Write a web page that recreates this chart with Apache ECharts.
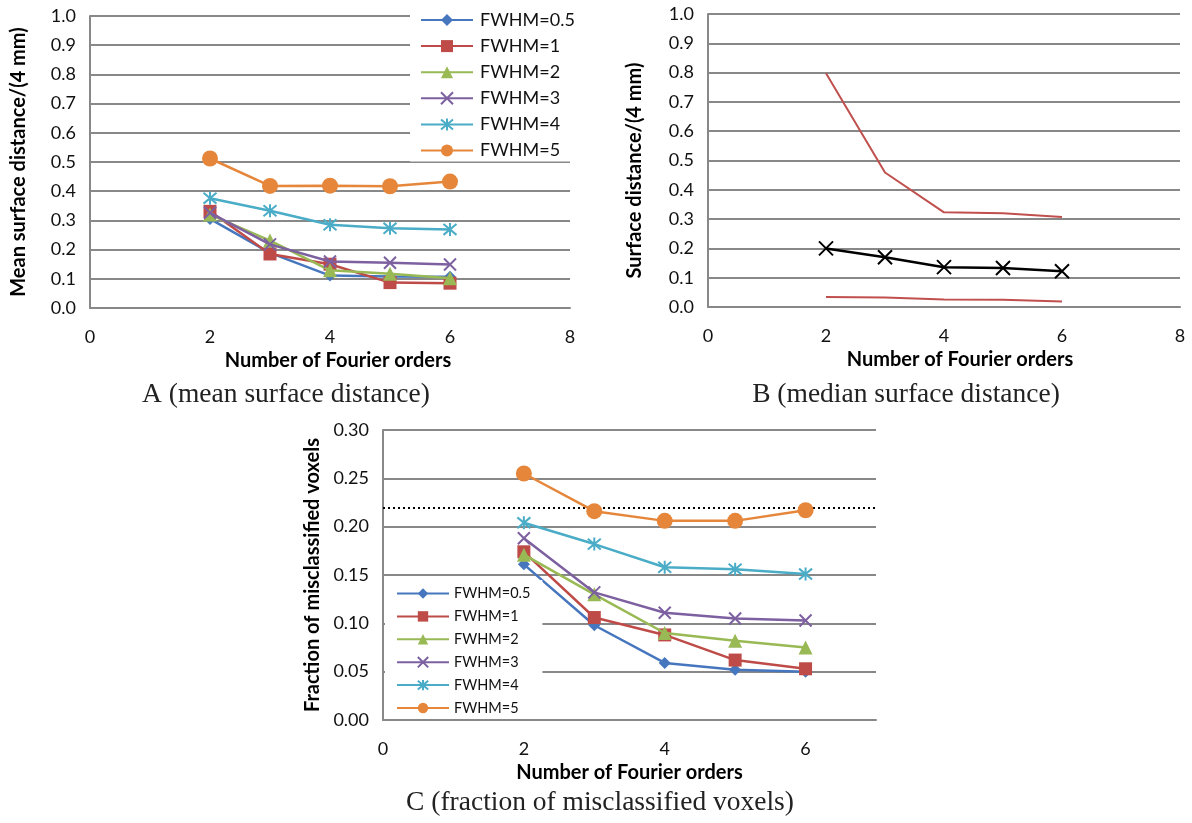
<!DOCTYPE html>
<html>
<head>
<meta charset="utf-8">
<script src="https://cdn.jsdelivr.net/npm/echarts@6/dist/echarts.min.js"></script>
<style>
html,body{margin:0;padding:0;background:#fff;}
#chart{width:1192px;height:823px;}
</style>
</head>
<body>
<div id="chart"></div>
<script>
// ---------- DATA ----------
var orders = [2, 3, 4, 5, 6];
var fwhmNames = ['FWHM=0.5', 'FWHM=1', 'FWHM=2', 'FWHM=3', 'FWHM=4', 'FWHM=5'];

// Panel A: mean surface distance / (4 mm)
var meanA_05 = [0.305, 0.189, 0.111, 0.108, 0.107];
var meanA_1  = [0.331, 0.185, 0.150, 0.087, 0.085];
var meanA_2  = [0.320, 0.231, 0.129, 0.117, 0.102];
var meanA_3  = [0.326, 0.218, 0.159, 0.155, 0.149];
var meanA_4  = [0.376, 0.333, 0.285, 0.273, 0.269];
var meanA_5  = [0.512, 0.418, 0.419, 0.417, 0.433];

// Panel B: median surface distance / (4 mm) with upper / lower bounds
var medianB = [0.200, 0.170, 0.136, 0.133, 0.122];
var upperB  = [0.798, 0.459, 0.323, 0.320, 0.307];
var lowerB  = [0.034, 0.032, 0.026, 0.025, 0.019];

// Panel C: fraction of misclassified voxels
var fracC_05 = [0.161, 0.098, 0.059, 0.052, 0.050];
var fracC_1  = [0.174, 0.106, 0.088, 0.062, 0.053];
var fracC_2  = [0.171, 0.130, 0.090, 0.082, 0.075];
var fracC_3  = [0.188, 0.132, 0.111, 0.105, 0.103];
var fracC_4  = [0.204, 0.182, 0.158, 0.156, 0.151];
var fracC_5  = [0.255, 0.216, 0.206, 0.206, 0.217];
var thresholdC = 0.22;

var captions = ['A (mean surface distance)', 'B (median surface distance)', 'C (fraction of misclassified voxels)'];
var xTitle = 'Number of Fourier orders';
var yTitles = ['Mean surface distance/(4 mm)', 'Surface distance/(4 mm)', 'Fraction of misclassified voxels'];

// ---------- STYLE ----------
var colors = ['#4677BE', '#BE4B48', '#98B954', '#7D60A0', '#4AACC6', '#E5863A'];
var xSym = 'path://M0,0 L10,10 M10,0 L0,10';
var starSym = 'path://M0,0 L10,10 M10,0 L0,10 M5,-1 L5,11';
var symbols = ['diamond', 'rect', 'triangle', xSym, starSym, 'circle'];
var symSizes = [12, 13, 14, 12, 13, 16];
var FONT = 'Lato';
var GRID_COLOR = '#888888';
var TITLE_SIZE = 20;

function pairs(ys) { return orders.map(function (x, i) { return [x, ys[i]]; }); }

function fwhmSeries(idx, ys, axisIdx) {
  var c = colors[idx];
  var isStroke = (idx === 3 || idx === 4);
  return {
    name: fwhmNames[idx],
    type: 'line',
    xAxisIndex: axisIdx, yAxisIndex: axisIdx,
    data: pairs(ys),
    symbol: symbols[idx],
    symbolSize: symSizes[idx],
    showAllSymbol: true,
    lineStyle: { color: c, width: 2.5 },
    itemStyle: isStroke ? { color: c, borderColor: c, borderWidth: 2 } : { color: c, borderWidth: 0 },
    emphasis: { disabled: true },
    animation: false,
    z: 3 + idx
  };
}

function xAxisCfg(gi, max, padLeft) {
  return {
    type: 'value', gridIndex: gi, min: 0, max: max, interval: 2,
    axisLine: { show: true, onZero: false, lineStyle: { color: GRID_COLOR, width: 2 } },
    axisTick: { show: false },
    splitLine: { show: false },
    axisLabel: { color: '#111', fontFamily: FONT, fontSize: 18, margin: 20, showMaxLabel: max === 8 },
    name: xTitle, nameLocation: 'middle', nameGap: 43,
    nameTextStyle: { color: '#000', fontFamily: FONT, fontWeight: 'bold', fontSize: TITLE_SIZE, padding: [0, 0, 0, padLeft] }
  };
}

function yAxisCfg(gi, max, interval, digits, name, gap, pad) {
  return {
    type: 'value', gridIndex: gi, min: 0, max: max, interval: interval,
    axisLine: { show: true, lineStyle: { color: GRID_COLOR, width: 2 } },
    axisTick: { show: false },
    splitLine: { show: true, lineStyle: { color: GRID_COLOR, width: 2 } },
    axisLabel: { color: '#111', fontFamily: FONT, fontSize: 18, margin: 14,
      formatter: function (v) { return v.toFixed(digits); } },
    name: name, nameLocation: 'middle', nameGap: gap, nameRotate: 90,
    nameTextStyle: { color: '#000', fontFamily: FONT, fontWeight: 'bold', fontSize: TITLE_SIZE, padding: pad }
  };
}

var series = [];
[meanA_05, meanA_1, meanA_2, meanA_3, meanA_4, meanA_5].forEach(function (ys, i) { series.push(fwhmSeries(i, ys, 0)); });

series.push({
  name: 'upper', type: 'line', xAxisIndex: 1, yAxisIndex: 1, data: pairs(upperB),
  showSymbol: false, lineStyle: { color: '#C0504D', width: 2 }, animation: false, emphasis: { disabled: true }
});
series.push({
  name: 'lower', type: 'line', xAxisIndex: 1, yAxisIndex: 1, data: pairs(lowerB),
  showSymbol: false, lineStyle: { color: '#C0504D', width: 2 }, animation: false, emphasis: { disabled: true }
});
series.push({
  name: 'median', type: 'line', xAxisIndex: 1, yAxisIndex: 1, data: pairs(medianB),
  symbol: xSym, symbolSize: 14, lineStyle: { color: '#000', width: 2.5 },
  itemStyle: { color: '#000', borderColor: '#000', borderWidth: 2 }, animation: false, emphasis: { disabled: true }
});

[fracC_05, fracC_1, fracC_2, fracC_3, fracC_4, fracC_5].forEach(function (ys, i) {
  var s = fwhmSeries(i, ys, 2);
  if (i === 0) {
    s.markLine = {
      silent: true, symbol: ['none', 'none'], label: { show: false },
      lineStyle: { color: '#000', type: [2, 3], width: 2 },
      data: [{ yAxis: thresholdC }], animation: false
    };
  }
  series.push(s);
});

var legendBase = {
  orient: 'vertical', backgroundColor: '#fff', borderWidth: 0,
  data: fwhmNames, selectedMode: false
};

var option = {
  backgroundColor: '#fff',
  animation: false,
  grid: [
    { left: 90, top: 16, width: 480, height: 292, outerBoundsMode: 'none' },
    { left: 708, top: 14, width: 472, height: 293, outerBoundsMode: 'none' },
    { left: 383, top: 430, width: 493, height: 290, outerBoundsMode: 'none' }
  ],
  xAxis: [xAxisCfg(0, 8, 16), xAxisCfg(1, 8, 32), xAxisCfg(2, 7, 0)],
  yAxis: [
    yAxisCfg(0, 1, 0.1, 1, yTitles[0], 61, [0, 0, 0, 0]),
    yAxisCfg(1, 1, 0.1, 1, yTitles[1], 63, [0, 20, 0, 0]),
    yAxisCfg(2, 0.3, 0.05, 2, yTitles[2], 60, [0, 0, 0, 0])
  ],
  legend: [
    Object.assign({}, legendBase, {
      left: 410, top: 5, padding: [6, 14, 2, 10],
      itemWidth: 52, itemHeight: 15, itemGap: 8.1,
      textStyle: { fontFamily: FONT, fontSize: 18, lineHeight: 15, color: '#111', padding: [0, 0, 0, 2] }
    }),
    Object.assign({}, legendBase, {
      left: 385, top: 580, padding: [6, 12, 1, 11],
      itemWidth: 52, itemHeight: 13, itemGap: 7.9,
      textStyle: { fontFamily: FONT, fontSize: 14.5, lineHeight: 13, color: '#111' }
    })
  ],
  graphic: [
    { type: 'text', style: { text: captions[0], x: 286, y: 395, align: 'center', verticalAlign: 'middle', font: '27.5px "Liberation Serif"', fill: '#222' } },
    { type: 'text', style: { text: captions[1], x: 906, y: 395, align: 'center', verticalAlign: 'middle', font: '27.5px "Liberation Serif"', fill: '#222' } },
    { type: 'text', style: { text: captions[2], x: 600, y: 803, align: 'center', verticalAlign: 'middle', font: '27.5px "Liberation Serif"', fill: '#222' } }
  ],
  series: series
};

var chart = echarts.init(document.getElementById('chart'), null, { renderer: 'canvas' });
chart.setOption(option);
</script>
</body>
</html>
